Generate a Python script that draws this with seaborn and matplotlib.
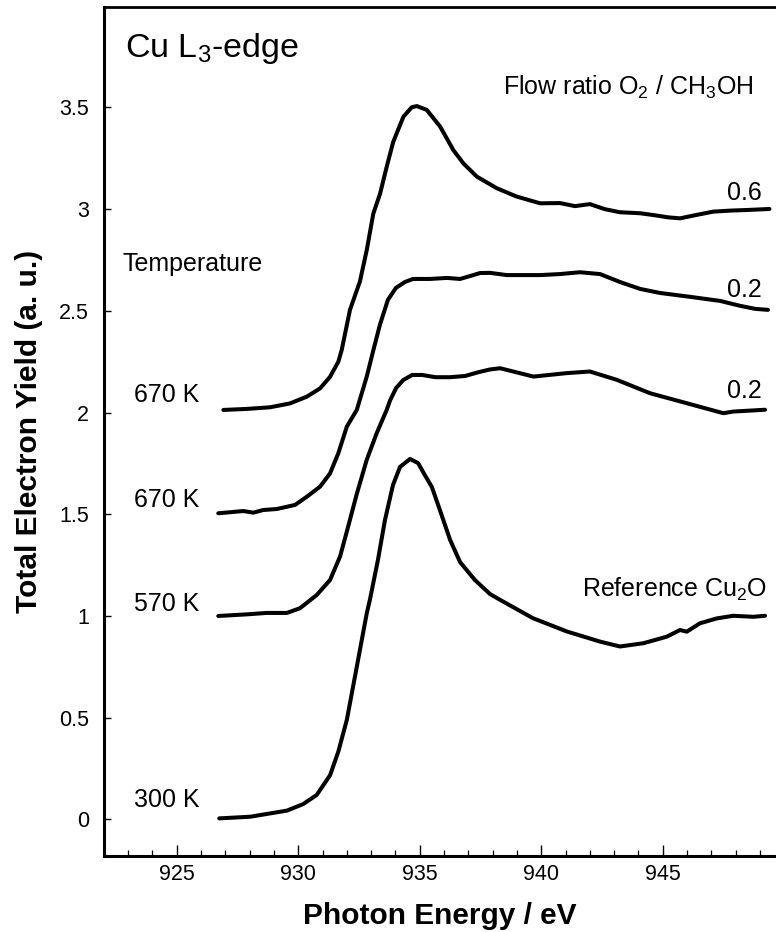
import matplotlib
matplotlib.use("Agg")
import matplotlib.pyplot as plt
import seaborn as sns
import pandas as pd
from matplotlib.ticker import MultipleLocator

# Cu L3-edge TEY spectra (already stacked with vertical offsets)
energy_ref = [926.75, 928.02, 929.53, 930.2, 930.76, 931.31, 931.65, 932.0, 932.41, 932.82, 932.95,
              933.28, 933.57, 933.9, 934.19, 934.6, 934.93, 935.21, 935.5, 935.83, 936.25,
              936.66, 937.27, 937.89, 938.31, 939.66, 941.05, 942.42, 943.24, 944.2, 945.16,
              945.71, 945.99, 946.53, 947.22, 947.9, 948.73, 949.21]
tey_ref = [0.005, 0.013, 0.043, 0.075, 0.12, 0.217, 0.333, 0.489, 0.75, 1.013, 1.08,
           1.275, 1.472, 1.644, 1.733, 1.772, 1.752, 1.693, 1.634, 1.521, 1.374,
           1.265, 1.177, 1.108, 1.079, 0.989, 0.924, 0.874, 0.85, 0.866, 0.898,
           0.931, 0.923, 0.964, 0.988, 1.001, 0.996, 1.001]

energy_570 = [926.71, 927.88, 928.7, 929.53, 930.07, 930.76, 931.31, 931.72, 932.0, 932.41,
              932.82, 933.23, 933.64, 933.78, 934.03, 934.32, 934.69, 935.1, 935.64, 936.25,
              936.87, 937.4, 937.89, 938.31, 939.68, 941.05, 942.0, 943.11, 944.48, 945.99,
              947.49, 947.9, 949.21]
tey_570 = [1.0, 1.008, 1.015, 1.015, 1.038, 1.103, 1.177, 1.292, 1.415, 1.6,
           1.768, 1.899, 2.013, 2.06, 2.121, 2.16, 2.185, 2.185, 2.174, 2.174,
           2.18, 2.198, 2.212, 2.218, 2.177, 2.194, 2.202, 2.161, 2.095, 2.046,
           1.997, 2.005, 2.014]

energy_670a = [926.71, 927.19, 927.74, 928.15, 928.56, 929.12, 929.87, 930.35, 930.9, 931.31,
               931.65, 932.0, 932.41, 932.82, 933.09, 933.36, 933.69, 934.02, 934.39, 934.72,
               935.42, 936.12, 936.66, 936.95, 937.48, 937.89, 938.58, 939.95, 940.77, 941.59,
               942.42, 943.24, 944.07, 944.89, 946.13, 947.36, 948.18, 948.8, 949.33]
tey_670a = [1.505, 1.51, 1.516, 1.508, 1.521, 1.526, 1.546, 1.586, 1.636, 1.701,
            1.8, 1.931, 2.013, 2.177, 2.306, 2.431, 2.554, 2.613, 2.642, 2.657,
            2.657, 2.662, 2.657, 2.667, 2.686, 2.687, 2.676, 2.676, 2.681, 2.69,
            2.681, 2.642, 2.608, 2.588, 2.569, 2.549, 2.525, 2.51, 2.505]

energy_670b = [926.92, 927.88, 928.84, 929.66, 930.35, 930.9, 931.31, 931.65, 931.79, 932.13,
               932.54, 932.82, 933.09, 933.37, 933.64, 933.91, 934.33, 934.67, 934.88, 935.29,
               935.84, 936.38, 936.79, 937.35, 938.17, 938.99, 939.95, 940.77, 941.39, 942.0,
               942.62, 943.24, 944.07, 944.68, 945.21, 945.71, 946.4, 947.08, 947.77, 948.46,
               949.39]
tey_670b = [2.013, 2.018, 2.026, 2.045, 2.078, 2.119, 2.176, 2.25, 2.308, 2.505,
            2.645, 2.799, 2.978, 3.077, 3.208, 3.331, 3.455, 3.501, 3.507, 3.488,
            3.406, 3.291, 3.226, 3.16, 3.103, 3.062, 3.029, 3.03, 3.015, 3.025,
            3.0, 2.985, 2.98, 2.97, 2.96, 2.955, 2.972, 2.988, 2.993, 2.996,
            3.001]

series_names = ["300 K", "570 K", "670 K / 0.2", "670 K / 0.6"]
temperature_labels = ["300 K", "570 K", "670 K", "670 K"]
temperature_label_y = [0.06, 1.023, 1.536, 2.052]
ratio_labels = ["0.6", "0.2", "0.2"]
ratio_label_y = [3.045, 2.57, 2.07]

frames = []
for name, e, t in zip(series_names,
                      [energy_ref, energy_570, energy_670a, energy_670b],
                      [tey_ref, tey_570, tey_670a, tey_670b]):
    frames.append(pd.DataFrame({"energy": e, "tey": t, "series": name}))
df = pd.concat(frames, ignore_index=True)

sns.set_theme(style="ticks")
plt.rcParams["font.family"] = ["Liberation Sans", "DejaVu Sans"]
plt.rcParams["mathtext.fontset"] = "custom"
plt.rcParams["mathtext.rm"] = "Liberation Sans"
plt.rcParams["mathtext.it"] = "Liberation Sans"
plt.rcParams["mathtext.bf"] = "Liberation Sans:bold"
plt.rcParams["text.color"] = "black"
plt.rcParams["axes.labelcolor"] = "black"
plt.rcParams["xtick.color"] = "black"
plt.rcParams["ytick.color"] = "black"

fig = plt.figure(figsize=(7.76, 9.32), dpi=100)
ax = fig.add_axes([103.8 / 776, 1 - 856 / 932, (776 - 103.8) / 776, (856 - 7) / 932])

sns.lineplot(data=df, x="energy", y="tey", hue="series", units="series",
             estimator=None, sort=False, palette=["black"] * 4,
             linewidth=2.9, legend=False, ax=ax)

ax.set_xlim(922, 949.66)
ax.set_ylim(-0.18, 3.994)

ax.xaxis.set_major_locator(MultipleLocator(5))
ax.xaxis.set_minor_locator(MultipleLocator(1))
ax.set_yticks([0, 0.5, 1, 1.5, 2, 2.5, 3, 3.5])
ax.set_yticklabels(["0", "0.5", "1", "1.5", "2", "2.5", "3", "3.5"])

ax.tick_params(axis="x", which="major", direction="in", length=8, width=1.0,
               labelsize=15.5, pad=6, color="black", labelcolor="black")
ax.tick_params(axis="x", which="minor", direction="in", length=4.3, width=0.9,
               color="black")
ax.tick_params(axis="y", which="major", direction="in", length=5, width=1.0,
               labelsize=15.5, pad=10.5, color="black", labelcolor="black")

for side in ["left", "bottom"]:
    ax.spines[side].set_linewidth(2.2)
    ax.spines[side].set_color("black")
ax.spines["top"].set_linewidth(2.0)
ax.spines["top"].set_color("black")
ax.spines["top"].set_visible(True)
ax.spines["right"].set_visible(False)

ax.set_xlabel("Photon Energy / eV", fontsize=21.5, fontweight="bold", labelpad=12,
              color="black")
ax.set_ylabel("Total Electron Yield (a. u.)", fontsize=21.5, fontweight="bold", labelpad=12,
              color="black")

ax.text(922.87, 3.75, r"Cu L$\mathregular{_3}$-edge", fontsize=24.5, ha="left",
        va="baseline", color="black")
ax.text(948.72, 3.561, r"Flow ratio O$\mathregular{_2}$ / CH$\mathregular{_3}$OH",
        fontsize=18, ha="right", va="baseline", color="black")
ax.text(922.79, 2.697, "Temperature", fontsize=18, ha="left", va="baseline", color="black")
for lab, y in zip(temperature_labels, temperature_label_y):
    ax.text(923.24, y, lab, fontsize=18, ha="left", va="baseline", color="black")
for lab, y in zip(ratio_labels, ratio_label_y):
    ax.text(949.08, y, lab, fontsize=18, ha="right", va="baseline", color="black")
ax.text(949.3, 1.092, r"Reference Cu$\mathregular{_2}$O", fontsize=18, ha="right",
        va="baseline", color="black")

fig.savefig("out.png", dpi=100)
